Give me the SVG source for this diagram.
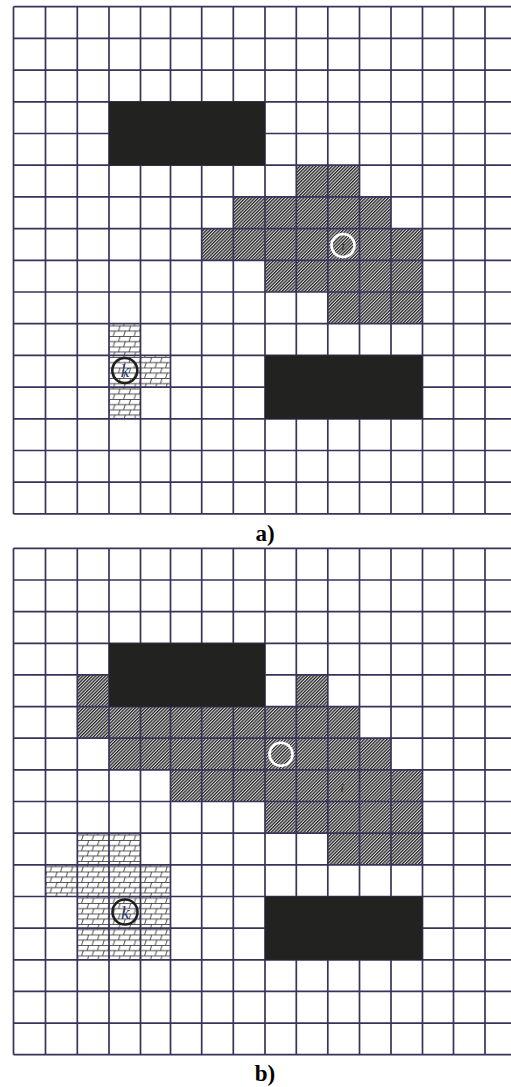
<svg xmlns="http://www.w3.org/2000/svg" width="511" height="1087" viewBox="0 0 511 1087">
<style>
.grid line{stroke:#3a3258;stroke-width:1.7}
.obst{fill:#222221}
.hatch{fill:url(#hatch)}
.brick{fill:url(#brick)}
.wc{fill:none;stroke:#ffffff;stroke-width:2.6}
.kc{fill:none;stroke:#1f1f1f;stroke-width:2.6}
.lbl{font-family:"Liberation Serif",serif;font-weight:bold;font-size:23px;text-anchor:middle;fill:#000}
.k{font-family:"Liberation Serif",serif;font-style:italic;font-size:19px;fill:#2a3d72;text-anchor:middle}
.i{font-family:"Liberation Serif",serif;font-style:italic;font-size:13px;fill:#3a2a1a;text-anchor:middle}
</style>
<defs>
<pattern id="hatch" patternUnits="userSpaceOnUse" width="2.3" height="2.3" patternTransform="rotate(45)">
<rect width="2.3" height="2.3" fill="#d4d4d4"/>
<rect width="1.2" height="2.3" fill="#222"/>
</pattern>
<pattern id="brick" patternUnits="userSpaceOnUse" width="10.5" height="10.5">
<rect width="10.5" height="10.5" fill="#fff"/>
<path d="M0 0.4H10.5M0 5.6H10.5M3 5.6L4.6 0.4M8.2 10.5L9.8 5.6" stroke="#222" stroke-width="0.8" fill="none"/>
</pattern>
</defs>
<rect width="511" height="1087" fill="#fff"/>

<g id="panel-a">
<g id="a-hatched">
<rect class="hatch" x="296.3" y="165.2" width="63.2" height="31.7"/>
<rect class="hatch" x="233.3" y="196.9" width="157.7" height="31.7"/>
<rect class="hatch" x="201.7" y="228.6" width="220.8" height="31.7"/>
<rect class="hatch" x="265" y="260.3" width="157.5" height="31.7"/>
<rect class="hatch" x="327.8" y="292" width="94.7" height="31.7"/>
</g>
<g id="a-brick">
<rect class="brick" x="109" y="323.7" width="31.5" height="31.7"/>
<rect class="brick" x="109" y="355.4" width="61.5" height="31.7"/>
<rect class="brick" x="109" y="387.1" width="31.5" height="31.7"/>
</g>
<g class="grid" id="a-grid">
<line x1="13.5" y1="6.7" x2="13.5" y2="513.9"/>
<line x1="45.5" y1="6.7" x2="45.5" y2="513.9"/>
<line x1="77.3" y1="6.7" x2="77.3" y2="513.9"/>
<line x1="109" y1="6.7" x2="109" y2="513.9"/>
<line x1="140.5" y1="6.7" x2="140.5" y2="513.9"/>
<line x1="170.5" y1="6.7" x2="170.5" y2="513.9"/>
<line x1="201.7" y1="6.7" x2="201.7" y2="513.9"/>
<line x1="233.3" y1="6.7" x2="233.3" y2="513.9"/>
<line x1="265" y1="6.7" x2="265" y2="513.9"/>
<line x1="296.3" y1="6.7" x2="296.3" y2="513.9"/>
<line x1="327.8" y1="6.7" x2="327.8" y2="513.9"/>
<line x1="359.5" y1="6.7" x2="359.5" y2="513.9"/>
<line x1="391" y1="6.7" x2="391" y2="513.9"/>
<line x1="422.5" y1="6.7" x2="422.5" y2="513.9"/>
<line x1="453.5" y1="6.7" x2="453.5" y2="513.9"/>
<line x1="485" y1="6.7" x2="485" y2="513.9"/>
<line x1="13.5" y1="6.7" x2="511" y2="6.7"/>
<line x1="13.5" y1="38.4" x2="511" y2="38.4"/>
<line x1="13.5" y1="70.1" x2="511" y2="70.1"/>
<line x1="13.5" y1="101.8" x2="511" y2="101.8"/>
<line x1="13.5" y1="133.5" x2="511" y2="133.5"/>
<line x1="13.5" y1="165.2" x2="511" y2="165.2"/>
<line x1="13.5" y1="196.9" x2="511" y2="196.9"/>
<line x1="13.5" y1="228.6" x2="511" y2="228.6"/>
<line x1="13.5" y1="260.3" x2="511" y2="260.3"/>
<line x1="13.5" y1="292" x2="511" y2="292"/>
<line x1="13.5" y1="323.7" x2="511" y2="323.7"/>
<line x1="13.5" y1="355.4" x2="511" y2="355.4"/>
<line x1="13.5" y1="387.1" x2="511" y2="387.1"/>
<line x1="13.5" y1="418.8" x2="511" y2="418.8"/>
<line x1="13.5" y1="450.5" x2="511" y2="450.5"/>
<line x1="13.5" y1="482.2" x2="511" y2="482.2"/>
<line x1="13.5" y1="513.9" x2="511" y2="513.9"/>
</g>
<g id="a-obstacles">
<rect class="obst" x="109" y="101.8" width="156" height="63.4"/>
<rect class="obst" x="265" y="355.4" width="157.5" height="63.4"/>
</g>
<g id="a-marker-i">
<circle class="wc" cx="343" cy="245.5" r="11.5"/>
<text class="i" x="343" y="250">i</text>
</g>
<g id="a-marker-k">
<circle class="kc" cx="124.8" cy="370.5" r="12.5"/>
<text class="k" x="125" y="377">k</text>
</g>
<text class="lbl" x="265" y="541">a)</text>
</g>

<g id="panel-b">
<g id="b-hatched">
<rect class="hatch" x="77.3" y="674.9" width="31.7" height="31.7"/>
<rect class="hatch" x="296.3" y="674.9" width="31.5" height="31.7"/>
<rect class="hatch" x="77.3" y="706.6" width="282.2" height="31.6"/>
<rect class="hatch" x="109" y="738.2" width="282" height="31.7"/>
<rect class="hatch" x="170.5" y="769.9" width="252" height="31.6"/>
<rect class="hatch" x="265" y="801.5" width="157.5" height="31.7"/>
<rect class="hatch" x="327.8" y="833.2" width="94.7" height="31.6"/>
</g>
<g id="b-brick">
<rect class="brick" x="77.3" y="833.2" width="63.2" height="31.6"/>
<rect class="brick" x="45.5" y="864.8" width="125" height="31.7"/>
<rect class="brick" x="77.3" y="896.5" width="93.2" height="31.6"/>
<rect class="brick" x="77.3" y="928.1" width="93.2" height="31.7"/>
</g>
<g class="grid" id="b-grid">
<line x1="13.5" y1="548.3" x2="13.5" y2="1054.7"/>
<line x1="45.5" y1="548.3" x2="45.5" y2="1054.7"/>
<line x1="77.3" y1="548.3" x2="77.3" y2="1054.7"/>
<line x1="109" y1="548.3" x2="109" y2="1054.7"/>
<line x1="140.5" y1="548.3" x2="140.5" y2="1054.7"/>
<line x1="170.5" y1="548.3" x2="170.5" y2="1054.7"/>
<line x1="201.7" y1="548.3" x2="201.7" y2="1054.7"/>
<line x1="233.3" y1="548.3" x2="233.3" y2="1054.7"/>
<line x1="265" y1="548.3" x2="265" y2="1054.7"/>
<line x1="296.3" y1="548.3" x2="296.3" y2="1054.7"/>
<line x1="327.8" y1="548.3" x2="327.8" y2="1054.7"/>
<line x1="359.5" y1="548.3" x2="359.5" y2="1054.7"/>
<line x1="391" y1="548.3" x2="391" y2="1054.7"/>
<line x1="422.5" y1="548.3" x2="422.5" y2="1054.7"/>
<line x1="453.5" y1="548.3" x2="453.5" y2="1054.7"/>
<line x1="485" y1="548.3" x2="485" y2="1054.7"/>
<line x1="13.5" y1="548.3" x2="511" y2="548.3"/>
<line x1="13.5" y1="580" x2="511" y2="580"/>
<line x1="13.5" y1="611.6" x2="511" y2="611.6"/>
<line x1="13.5" y1="643.3" x2="511" y2="643.3"/>
<line x1="13.5" y1="674.9" x2="511" y2="674.9"/>
<line x1="13.5" y1="706.6" x2="511" y2="706.6"/>
<line x1="13.5" y1="738.2" x2="511" y2="738.2"/>
<line x1="13.5" y1="769.9" x2="511" y2="769.9"/>
<line x1="13.5" y1="801.5" x2="511" y2="801.5"/>
<line x1="13.5" y1="833.2" x2="511" y2="833.2"/>
<line x1="13.5" y1="864.8" x2="511" y2="864.8"/>
<line x1="13.5" y1="896.5" x2="511" y2="896.5"/>
<line x1="13.5" y1="928.1" x2="511" y2="928.1"/>
<line x1="13.5" y1="959.8" x2="511" y2="959.8"/>
<line x1="13.5" y1="991.4" x2="511" y2="991.4"/>
<line x1="13.5" y1="1023.1" x2="511" y2="1023.1"/>
<line x1="13.5" y1="1054.7" x2="511" y2="1054.7"/>
</g>
<g id="b-obstacles">
<rect class="obst" x="109" y="643.3" width="156" height="63.3"/>
<rect class="obst" x="265" y="896.5" width="157.5" height="63.3"/>
</g>
<g id="b-marker-circle">
<circle class="wc" cx="281" cy="754.3" r="11.5"/>
</g>
<g id="b-marker-i">
<text class="i" x="342" y="792">i</text>
</g>
<g id="b-marker-k">
<circle class="kc" cx="125" cy="912" r="12.5"/>
<text class="k" x="125.2" y="918.5">k</text>
</g>
<text class="lbl" x="265" y="1081">b)</text>
</g>
</svg>
